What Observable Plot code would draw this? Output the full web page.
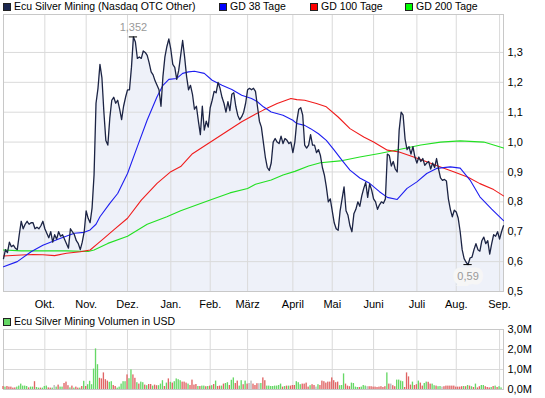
<!DOCTYPE html>
<html><head><meta charset="utf-8">
<script src="https://cdn.jsdelivr.net/npm/d3@7"></script>
<script src="https://cdn.jsdelivr.net/npm/@observablehq/plot@0.6"></script>
<style>
body{margin:0;background:#fff;}
#wrap{position:relative;width:545px;height:398px;overflow:hidden;font-family:"Liberation Sans",Arial,sans-serif;font-size:11px;color:#000;}
.lg{position:absolute;white-space:nowrap;line-height:12px;font-size:10.5px;}
.sw{position:absolute;width:6px;height:6px;border:1px solid #222;}
#wrap svg{position:absolute;left:0;overflow:visible;}
</style></head><body><div id="wrap"></div>
<script>
// ---- data ----
const monthTicks = [21,42,63,85,105,124,147,167,188,210,230,252];
const monthLabels = ["Okt.","Nov.","Dez.","Jan.","Feb.","März","April","Mai","Juni","Juli","Aug.","Sep."];
const priceTicks = [0.5,0.6,0.7,0.8,0.9,1.0,1.1,1.2,1.3];
const volTicks = [0,1,2,3];
const xDomain = [0,254];
const yDomain = [0.5,1.427];

// [trading-day index, price]
const priceData = [[0,0.61],[1,0.64],[2,0.63],[3,0.665],[4,0.65],[5,0.655],[6,0.645],[7,0.64],[8,0.69],[9,0.735],[10,0.71],[11,0.725],[12,0.735],[13,0.725],[14,0.73],[15,0.73],[16,0.71],[17,0.715],[18,0.71],[19,0.72],[20,0.735],[21,0.71],[22,0.695],[23,0.68],[24,0.70],[25,0.665],[26,0.69],[27,0.675],[28,0.70],[29,0.685],[30,0.69],[31,0.675],[32,0.66],[33,0.645],[34,0.71],[35,0.70],[36,0.69],[37,0.67],[38,0.66],[39,0.64],[40,0.665],[41,0.70],[42,0.77],
[43,0.745],[44,0.73],[45,0.78],[46,0.89],[47,1.13],[48,1.18],[49,1.26],[50,1.215],[51,1.10],[52,1.005],[53,0.99],[54,1.08],[55,1.14],[56,1.15],[57,1.13],[58,1.14],[59,1.11],[60,1.075],[61,1.12],[62,1.15],[63,1.175],[64,1.175],[65,1.25],[66,1.352],
[67,1.335],[68,1.28],[69,1.285],[70,1.28],[71,1.305],[72,1.30],[73,1.29],[74,1.265],[75,1.235],[76,1.225],[77,1.205],[78,1.19],[79,1.175],[80,1.12],[81,1.22],[82,1.285],[83,1.32],[84,1.345],[85,1.31],[86,1.26],[87,1.25],[88,1.21],[89,1.24],[90,1.29],[91,1.34],[92,1.285],[93,1.22],[94,1.175],[95,1.19],[96,1.16],[97,1.11],[98,1.12],[99,1.07],[100,1.025],[101,1.12],[102,1.04],[103,1.07],[104,1.05],[105,1.115],[106,1.14],[107,1.17],[108,1.165],[109,1.2],[110,1.18],[111,1.15],[112,1.13],[113,1.10],[114,1.135],[115,1.105],[116,1.16],[117,1.165],[118,1.12],[119,1.09],[120,1.075],[121,1.085],[122,1.10],[123,1.13],[124,1.175],[125,1.18],[126,1.175],[127,1.18],[128,1.17],[129,1.12],[130,1.07],[131,1.05],[132,1.0],[133,0.95],[134,0.915],[135,0.905],[136,0.93],[137,1.0],[138,1.012],[139,1.0],[140,0.995],[141,1.02],[142,0.995],[143,1.012],[144,1.006],[145,0.995],[146,1.0],[147,0.965],[148,1.0],[149,1.07],[150,1.11],[151,1.115],[152,1.09],[153,0.99],[154,0.98],[155,0.99],[156,1.025],[157,0.99],[158,0.99],[159,0.965],[160,0.975],[161,0.955],[162,0.915],[163,0.89],[164,0.85],[165,0.80],[166,0.81],[167,0.77],[168,0.73],[169,0.71],[170,0.705],[171,0.77],[172,0.81],[173,0.85],[174,0.77],[175,0.755],[176,0.72],[177,0.70],[178,0.76],[179,0.775],[180,0.80],[181,0.785],[182,0.82],[183,0.845],[184,0.865],[185,0.815],[186,0.86],[187,0.84],[188,0.81],[189,0.80],[190,0.775],[191,0.79],[192,0.80],[193,0.795],[194,0.81],[195,0.96],[196,0.955],[197,0.92],[198,0.935],[199,0.91],[200,0.90],[201,1.04],[202,1.10],[203,1.09],[204,1.01],[205,0.975],[206,0.985],[207,0.96],[208,0.985],[209,0.95],[210,0.93],[211,0.95],[212,0.935],[213,0.945],[214,0.922],[215,0.93],[216,0.935],[217,0.91],[218,0.93],[219,0.915],[220,0.945],[221,0.91],[222,0.88],[223,0.872],[224,0.875],[225,0.87],[226,0.81],[227,0.775],[228,0.75],[229,0.772],[230,0.766],[231,0.745],[232,0.70],[233,0.64],[234,0.61],[235,0.598],[236,0.59],[237,0.612],[238,0.615],[239,0.64],[240,0.66],[241,0.64],[242,0.635],[243,0.67],[244,0.682],[245,0.66],[246,0.67],[247,0.625],[248,0.66],[249,0.69],[250,0.685],[251,0.70],[252,0.675],[253,0.70],[254,0.72]];

const gd38 = [[0,0.583],[7,0.60],[14,0.633],[20,0.655],[29,0.678],[36,0.695],[41,0.698],[44,0.706],[47,0.725],[49,0.75],[54,0.795],[58,0.828],[63,0.895],[68,0.985],[73,1.074],[78,1.152],[81,1.19],[84,1.21],[88,1.213],[91,1.23],[94,1.235],[97,1.237],[102,1.23],[106,1.207],[111,1.19],[116,1.176],[121,1.157],[126,1.146],[129,1.135],[132,1.118],[136,1.101],[142,1.09],[147,1.073],[149,1.062],[153,1.056],[156,1.045],[160,1.028],[164,1.006],[168,0.973],[172,0.939],[176,0.906],[181,0.88],[186,0.862],[191,0.834],[195,0.815],[200,0.808],[205,0.845],[210,0.867],[215,0.895],[220,0.912],[227,0.917],[232,0.913],[237,0.873],[242,0.817],[248,0.776],[254,0.737]];

const gd100 = [[0,0.619],[9,0.622],[15,0.624],[20,0.623],[26,0.62],[32,0.628],[39,0.633],[44,0.639],[48,0.661],[51,0.678],[56,0.706],[63,0.745],[70,0.806],[78,0.862],[85,0.901],[90,0.918],[96,0.961],[104,0.995],[113,1.034],[121,1.068],[127,1.09],[132,1.107],[139,1.129],[146,1.146],[149,1.142],[153,1.14],[159,1.129],[164,1.118],[170,1.084],[176,1.045],[183,1.017],[188,1.0],[195,0.973],[201,0.967],[208,0.951],[215,0.934],[222,0.917],[229,0.9],[236,0.882],[242,0.861],[249,0.841],[254,0.82]];

const gd200 = [[0,0.639],[9,0.636],[19,0.636],[32,0.636],[43,0.634],[46,0.639],[53,0.661],[63,0.685],[73,0.725],[83,0.75],[90,0.77],[105,0.806],[115,0.83],[124,0.845],[128,0.859],[136,0.873],[142,0.89],[148,0.902],[155,0.92],[161,0.931],[171,0.937],[181,0.95],[191,0.962],[201,0.975],[212,0.99],[222,1.0],[232,1.004],[244,1.0],[249,0.99],[254,0.98]];

// daily volume in million USD, and direction (g = up, r = down, n = unchanged)
const volume = [0.15,0.12,0.15,0.12,0.12,0.07,0.08,0.12,0.17,0.27,
0.17,0.17,0.15,0.08,0.12,0.12,0.39,0.10,0.07,0.07,
0.07,0.15,0.17,0.08,0.07,0.07,0.20,0.12,0.22,0.12,
0.12,0.30,0.37,0.19,0.08,0.17,0.07,0.12,0.07,0.07,
0.15,0.41,0.15,0.24,0.41,0.24,1.02,2.03,1.24,0.56,
0.53,0.83,0.49,0.42,0.36,0.39,0.20,0.15,0.07,0.12,
0.27,0.39,0.39,0.73,0.54,0.98,0.73,0.56,0.34,0.27,
0.37,0.34,0.22,0.19,0.25,0.25,0.17,0.22,0.19,0.19,
0.27,0.44,0.15,0.32,0.53,0.36,0.32,0.39,0.53,0.49,
0.44,0.37,0.37,0.32,0.27,0.20,0.47,0.22,0.25,0.15,
0.15,0.17,0.17,0.14,0.15,0.17,0.19,0.25,0.42,0.15,
0.17,0.17,0.27,0.30,0.34,0.20,0.46,0.58,0.30,0.42,
0.17,0.44,0.24,0.42,0.27,0.30,0.42,0.27,0.20,0.29,
0.29,0.30,0.58,0.44,0.17,0.17,0.15,
0.15,0.17,0.17,0.20,0.27,0.12,0.15,0.17,0.17,0.17,
0.20,0.20,0.39,0.34,0.24,0.27,0.27,0.32,0.12,0.19,
0.24,0.20,0.12,0.24,0.20,0.42,0.39,0.32,0.37,0.37,
0.58,0.44,0.34,0.37,0.19,0.20,0.78,0.27,0.17,0.14,
0.32,0.30,0.12,0.10,0.10,0.12,0.20,0.17,0.14,0.14,
0.14,0.12,0.12,0.10,0.12,0.14,0.10,0.14,0.83,0.27,
0.27,0.19,0.14,0.47,0.47,0.42,0.39,0.10,0.83,0.63,
0.22,0.37,0.20,0.24,0.42,0.32,0.17,0.30,0.37,0.36,
0.27,0.27,0.19,0.17,0.14,0.15,0.12,0.14,0.17,0.17,
0.17,0.17,0.17,0.12,0.12,0.12,0.14,0.15,0.14,0.20,
0.17,0.14,0.10,0.27,0.08,0.14,0.20,0.20,0.14,0.10,
0.08,0.10,0.15,0.17,0.10,0.14,0.08];
const volDir = ("rgrrrrrggg"+"gggrggrggr"+"gggrrgngrg"+"grrrgrgrrg"+"rgrggggggr"+"rrrrggrrgg"+"gggrggrrgr"+"ggrgrrgrrg"+"ggrgrgrggg"+"grrrgrrrrg"+"rggrgrgrgr"+"rgrggrggrr"+"ggrgrnnrrr"+"ngrrggg"+
"gggggrgrgr"+"rrgggrrrrg"+"rrngrrrrrr"+"rrrrgggrrr"+"ggggrgggnr"+"rrrrrrrrgr"+"nrrggggrrr"+"rgrrgrrggr"+"rggrggnrrr"+"rrrrrrrgrg"+"rgrgrrggrr"+"rgrgrgg").split("");

// ---- build ----
const price = priceData.map(([i,v]) => ({i, v}));
const toObj = a => a.map(([i,v]) => ({i, v}));
const vols = volume.map((v,i) => ({i, v, c: volDir[i] || "g"}));
const font = '"Liberation Sans", Arial, sans-serif';
const comma1 = d => d.toFixed(1).replace(".", ",");
const maxP = d3.greatest(price, d => d.v);
const minP = d3.least(price, d => d.v);
const gridCol = "#dadada";

const main = Plot.plot({
  width: 545, height: 310,
  marginTop: 14, marginBottom: 19, marginLeft: 3, marginRight: 42,
  style: {fontFamily: font, fontSize: "11px", background: "transparent", color: "#000"},
  x: {domain: xDomain, ticks: monthTicks, tickFormat: d => monthLabels[monthTicks.indexOf(d)], tickSize: 0, tickPadding: 9, label: null},
  y: {domain: yDomain, ticks: priceTicks, tickFormat: comma1, tickSize: 0, tickPadding: 4, axis: "right", label: null},
  marks: [
    Plot.areaY(price, {x: "i", y1: yDomain[0], y2: "v", fill: "#eef1f9"}),
    Plot.ruleX(monthTicks, {stroke: gridCol}),
    Plot.ruleY(priceTicks.slice(1), {stroke: gridCol}),
    Plot.frame({stroke: "#c8c8c8"}),
    Plot.line(toObj(gd200), {x: "i", y: "v", stroke: "#22e022", strokeWidth: 1.1}),
    Plot.line(toObj(gd100), {x: "i", y: "v", stroke: "#f01c1c", strokeWidth: 1.1}),
    Plot.line(toObj(gd38), {x: "i", y: "v", stroke: "#1e1ef0", strokeWidth: 1.1}),
    Plot.line(price, {x: "i", y: "v", stroke: "#1c2444", strokeWidth: 1.3}),
    Plot.ruleY([maxP], {x1: d => d.i - 2.1, x2: d => d.i + 2.1, y: "v", stroke: "#000"}),
    Plot.text([maxP], {x: "i", y: "v", text: d => d.v.toFixed(3).replace(".", ","), dy: -9, fill: "#999", fontSize: 11}),
    Plot.ruleY([minP], {x1: d => d.i - 2.1, x2: d => d.i + 2.1, y: "v", stroke: "#000"}),
    Plot.text([minP], {x: "i", y: "v", text: d => d.v.toFixed(2).replace(".", ","), dy: 12, fill: "#999", fontSize: 11,
      stroke: "#f6f6f6", strokeWidth: 9, strokeLinejoin: "miter", paintOrder: "stroke"})
  ]
});
main.style.top = "0px";

const vol = Plot.plot({
  width: 545, height: 88,
  marginTop: 19, marginBottom: 9, marginLeft: 3, marginRight: 42,
  style: {fontFamily: font, fontSize: "11px", background: "transparent", color: "#000"},
  x: {domain: xDomain, axis: null},
  y: {domain: [0, 3], ticks: volTicks, tickFormat: d => comma1(d) + "M", tickSize: 0, tickPadding: 4, axis: "right", label: null},
  color: {domain: ["g", "r", "n"], range: ["#66d866", "#e06464", "#b8b8b8"]},
  marks: [
    Plot.ruleX(monthTicks, {stroke: gridCol}),
    Plot.ruleY([1, 2], {stroke: gridCol}),
    Plot.frame({stroke: "#c8c8c8"}),
    Plot.rectY(vols, {x1: d => d.i - 0.34, x2: d => d.i + 0.34, y: "v", fill: "c"})
  ]
});
vol.style.top = "310px";

const wrap = document.getElementById("wrap");
wrap.appendChild(main);
wrap.appendChild(vol);

// legends
const legendItems = [
  {label: "Ecu Silver Mining (Nasdaq OTC Other)", color: "#1c2850", x: 3, top: 0},
  {label: "GD 38 Tage", color: "#0000ff", x: 219, top: 0},
  {label: "GD 100 Tage", color: "#ff0000", x: 310, top: 0},
  {label: "GD 200 Tage", color: "#00ff00", x: 405, top: 0},
  {label: "Ecu Silver Mining Volumen in USD", color: "#66d866", x: 3, top: 315}
];
for (const it of legendItems) {
  const sw = document.createElement("div");
  sw.className = "sw";
  sw.style.left = it.x + "px";
  sw.style.top = (it.top + 3) + "px";
  sw.style.background = it.color;
  wrap.appendChild(sw);
  const t = document.createElement("div");
  t.className = "lg";
  t.style.left = (it.x + 11) + "px";
  t.style.top = it.top + "px";
  t.textContent = it.label;
  wrap.appendChild(t);
}
</script>
</body></html>
